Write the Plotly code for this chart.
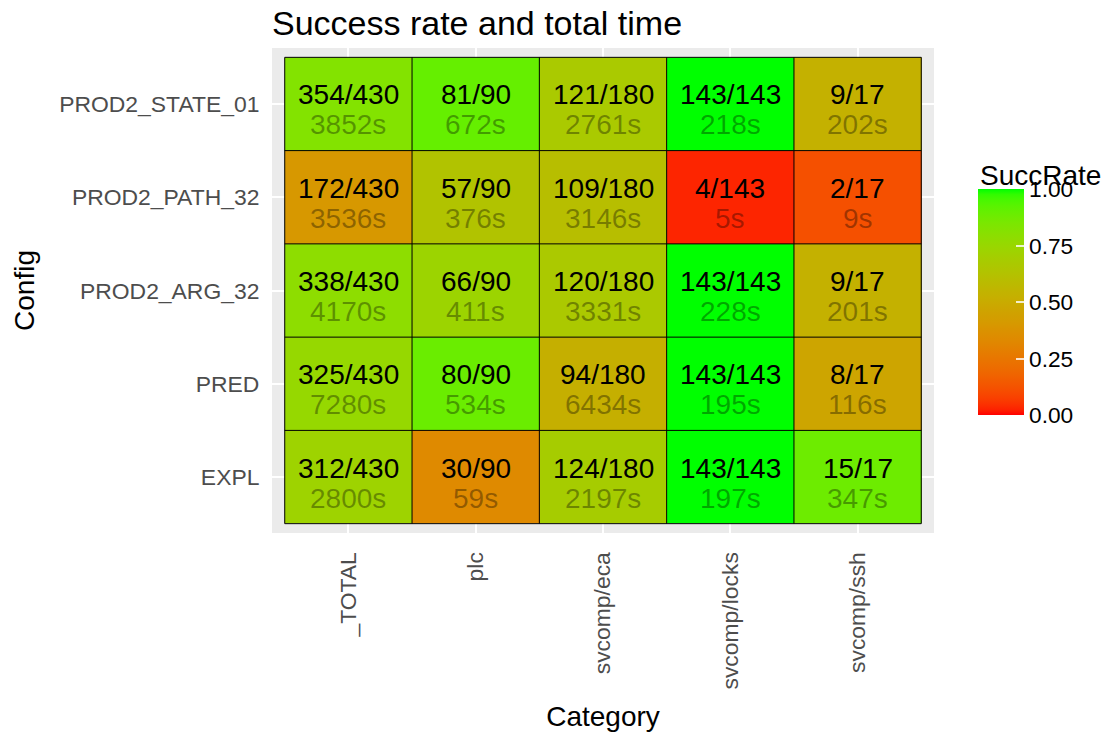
import numpy as np
import plotly.graph_objects as go

# ---------------- data ----------------
categories = ["_TOTAL", "plc", "svcomp/eca", "svcomp/locks", "svcomp/ssh"]
configs = ["EXPL", "PRED", "PROD2_ARG_32", "PROD2_PATH_32", "PROD2_STATE_01"]  # bottom -> top
totals = [430, 90, 180, 143, 17]
solved_EXPL = [312, 30, 124, 143, 15]
solved_PRED = [325, 80, 94, 143, 8]
solved_ARG = [338, 66, 120, 143, 9]
solved_PATH = [172, 57, 109, 4, 2]
solved_STATE = [354, 81, 121, 143, 9]
time_EXPL = [2800, 59, 2197, 197, 347]
time_PRED = [7280, 534, 6434, 195, 116]
time_ARG = [4170, 411, 3331, 228, 201]
time_PATH = [3536, 376, 3146, 5, 9]
time_STATE = [3852, 672, 2761, 218, 202]
colorbar_ticks = [0.0, 0.25, 0.5, 0.75, 1.0]

solved = [solved_EXPL, solved_PRED, solved_ARG, solved_PATH, solved_STATE]
times = [time_EXPL, time_PRED, time_ARG, time_PATH, time_STATE]
rate = [[s / t for s, t in zip(row, totals)] for row in solved]


# ---------------- Lab gradient red -> green (ggplot scale_fill_gradient) ----------------
def _lin(c):
    c = c / 255.0
    return np.where(c <= 0.04045, c / 12.92, ((c + 0.055) / 1.055) ** 2.4)


def _delin(c):
    c = np.where(c <= 0.0031308, 12.92 * c, 1.055 * np.power(np.clip(c, 0, None), 1 / 2.4) - 0.055)
    return np.clip(np.round(c * 255), 0, 255)


M = np.array([[0.4124, 0.3576, 0.1805], [0.2126, 0.7152, 0.0722], [0.0193, 0.1192, 0.9505]])
Minv = np.linalg.inv(M)
WHITE = np.array([0.95047, 1.0, 1.08883])


def rgb2lab(rgb):
    xyz = M @ _lin(np.array(rgb, float)) / WHITE
    f = np.where(xyz > 0.008856, np.cbrt(xyz), 7.787 * xyz + 16 / 116)
    return np.array([116 * f[1] - 16, 500 * (f[0] - f[1]), 200 * (f[1] - f[2])])


def lab2rgb(lab):
    fy = (lab[0] + 16) / 116
    fx = fy + lab[1] / 500
    fz = fy - lab[2] / 200
    f = np.array([fx, fy, fz])
    xyz = np.where(f ** 3 > 0.008856, f ** 3, (f - 16 / 116) / 7.787) * WHITE
    return _delin(Minv @ xyz)


LOW = rgb2lab([255, 0, 0])
HIGH = rgb2lab([0, 255, 0])
colorscale = []
for t in np.linspace(0, 1, 41):
    r, g, b = lab2rgb(LOW + (HIGH - LOW) * t)
    colorscale.append([float(t), f"rgb({int(r)},{int(g)},{int(b)})"])

FONT = "Liberation Sans, Arial, Helvetica, sans-serif"
nx, ny = len(categories), len(configs)

# figure geometry (page has an 8px body margin)
W, H = 1103, 730
L, T, PW, PH = 264, 40, 662, 490

fig = go.Figure()
fig.add_trace(go.Heatmap(
    x=list(range(nx)), y=list(range(ny)), z=rate,
    zmin=0, zmax=1, colorscale=colorscale, showscale=True,
    colorbar=dict(
        thickness=46, thicknessmode="pixels", len=226, lenmode="pixels",
        x=(978 - 272) / PW, xanchor="left", y=(538 - 305) / PH, yanchor="middle",
        xpad=0, ypad=0, outlinewidth=0,
        tickvals=colorbar_ticks, ticktext=[f"{v:.2f}" for v in colorbar_ticks],
        ticks="inside", ticklen=8, tickcolor="rgba(255,255,255,0.8)", tickwidth=1.5,
        tickfont=dict(size=22.7, color="black", family=FONT),
    ),
    hoverinfo="skip",
))

# tile borders
bx, by = [], []
for i in range(nx + 1):
    bx += [i - 0.5, i - 0.5, None]
    by += [-0.5, ny - 0.5, None]
for j in range(ny + 1):
    bx += [-0.5, nx - 0.5, None]
    by += [j - 0.5, j - 0.5, None]
fig.add_trace(go.Scatter(x=bx, y=by, mode="lines", line=dict(color="black", width=1),
                         showlegend=False, hoverinfo="skip"))

annotations = []
for j in range(ny):
    for i in range(nx):
        annotations.append(dict(x=i, y=j, xref="x", yref="y", showarrow=False,
                                text=f"{solved[j][i]}/{totals[i]}", yshift=9,
                                font=dict(size=28, color="black", family=FONT)))
        annotations.append(dict(x=i, y=j, xref="x", yref="y", showarrow=False,
                                text=f"{times[j][i]}s", yshift=-21,
                                font=dict(size=28, color="rgba(0,0,0,0.35)", family=FONT)))

# legend title
annotations.append(dict(text="SuccRate", xref="paper", yref="paper",
                        x=(978 - 272) / PW, xanchor="left",
                        y=(538 - 177) / PH, yanchor="middle", showarrow=False,
                        font=dict(size=28, color="black", family=FONT)))

fig.update_layout(
    width=W, height=H,
    margin=dict(l=L, r=W - L - PW, t=T, b=H - T - PH),
    paper_bgcolor="white", plot_bgcolor="#EBEBEB",
    showlegend=False,
    title=dict(text="Success rate and total time", x=L / W, xanchor="left",
               y=1 - 15 / H, yanchor="middle", xref="container", yref="container",
               font=dict(size=34, color="black", family=FONT)),
    annotations=annotations,
    xaxis=dict(range=[-0.6, nx - 0.4], tickvals=list(range(nx)), ticktext=categories,
               tickangle=-90, showgrid=True, gridcolor="white", gridwidth=2.2, zeroline=False,
               ticks="outside", ticklen=9, tickcolor="rgba(0,0,0,0)", tickwidth=1,
               tickfont=dict(size=22.9, color="#4D4D4D", family=FONT),
               title=dict(text="Category", standoff=17, font=dict(size=28, color="black", family=FONT)),
               fixedrange=True),
    yaxis=dict(range=[-0.6, ny - 0.4], tickvals=list(range(ny)), ticktext=configs,
               showgrid=True, gridcolor="white", gridwidth=2.2, zeroline=False,
               ticks="outside", ticklen=7, tickcolor="rgba(0,0,0,0)", tickwidth=1,
               tickfont=dict(size=22.9, color="#4D4D4D", family=FONT),
               title=dict(text="Config", standoff=16, font=dict(size=28, color="black", family=FONT)),
               fixedrange=True),
)

fig.write_html("out.html")
